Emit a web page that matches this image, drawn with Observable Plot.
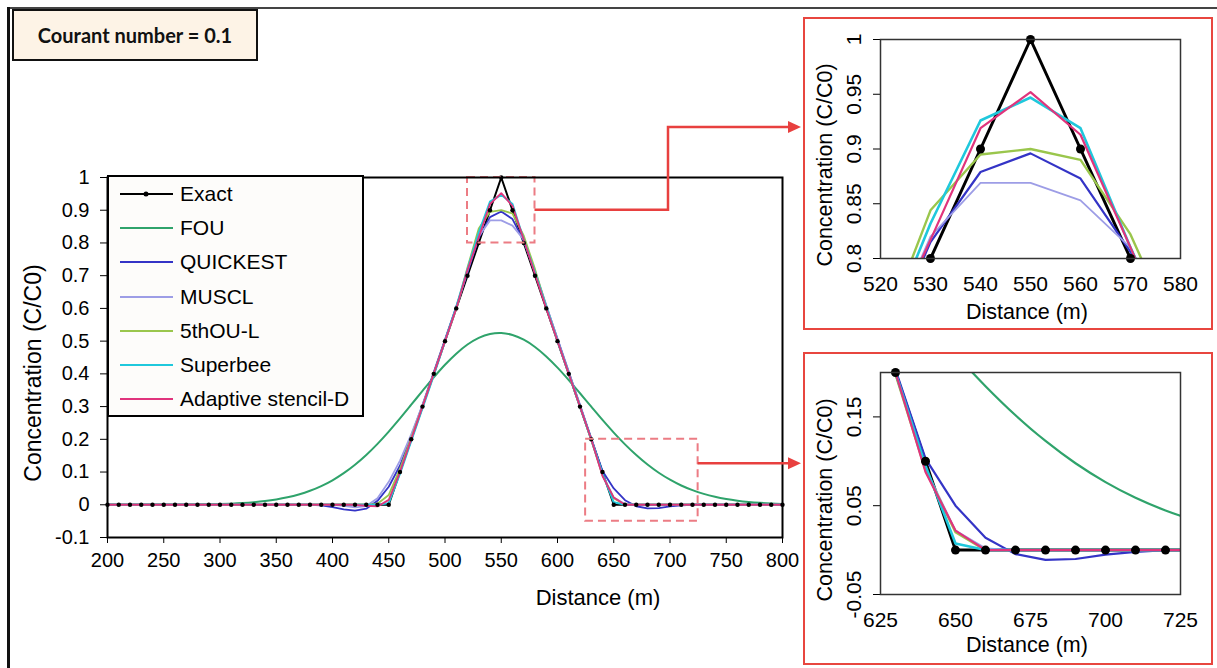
<!DOCTYPE html>
<html><head><meta charset="utf-8">
<script src="https://cdn.jsdelivr.net/npm/d3@7"></script>
<script src="https://cdn.jsdelivr.net/npm/@observablehq/plot@0.6"></script>
<style>
html,body{margin:0;padding:0;background:#fff;}
#fig{position:relative;width:1217px;height:668px;overflow:hidden;background:#fff;font-family:"Liberation Sans",Arial,sans-serif;color:#000;}
.abs{position:absolute;}
.ctr{position:absolute;transform:translate(-50%,-50%);white-space:nowrap;}
.rot{position:absolute;transform:translate(-50%,-50%) rotate(-90deg);white-space:nowrap;}
#titleBox{left:12px;top:9px;width:246px;height:52px;box-sizing:border-box;border:2px solid #111;background:#fdf3e6;display:flex;align-items:center;justify-content:center;font-family:Lato,"Open Sans",sans-serif;font-weight:700;font-size:20px;color:#111;}
#legend{left:107px;top:175px;width:257px;height:242px;box-sizing:border-box;border:2px solid #000;background:#fdfcfa;}
.lrow{position:absolute;left:0;height:34px;display:flex;align-items:center;font-size:21px;}
.lrow svg{margin-left:11px;margin-right:7px;}
.inset{position:absolute;left:803px;width:410px;height:313px;box-sizing:border-box;border:2px solid #e8463f;background:#fff;}
</style></head><body>
<div id="fig">
  <div class="abs" style="left:7px;top:7px;width:1210px;height:2px;background:#444"></div>
  <div class="abs" style="left:7px;top:7px;width:3px;height:661px;background:#111"></div>
  <div id="mainHost" class="abs" style="left:0;top:0"></div>
  <div id="titleBox" class="abs">Courant number = 0.1</div>
  <div id="legend" class="abs"></div>
  <div class="ctr" style="left:598px;top:598px;font-size:22px">Distance (m)</div>
  <div class="rot" style="left:33px;top:373px;font-size:23px">Concentration (C/C0)</div>
  <div id="inset1" class="inset" style="top:17px"></div>
  <div id="inset2" class="inset" style="top:352px"></div>
  <div class="ctr" style="left:1027px;top:312px;font-size:21.5px">Distance (m)</div>
  <div class="rot" style="left:825px;top:165px;font-size:21.5px">Concentration (C/C0)</div>
  <div class="ctr" style="left:1027px;top:645px;font-size:21.5px">Distance (m)</div>
  <div class="rot" style="left:825px;top:500px;font-size:21.5px">Concentration (C/C0)</div>
  <svg id="overlay" class="abs" width="1217" height="668" style="left:0;top:0;pointer-events:none"></svg>
</div>
<script>
// ---------------- data ----------------
const distance = [
  200,210,220,230,240,250,260,270,280,290,
  300,310,320,330,340,350,360,370,380,390,
  400,410,420,430,440,450,460,470,480,490,
  500,510,520,530,540,550,560,570,580,590,
  600,610,620,630,640,650,660,670,680,690,
  700,710,720,730,740,750,760,770,780,790,
  800];
const exact = [
  0,0,0,0,0,0,0,0,0,0,
  0,0,0,0,0,0,0,0,0,0,
  0,0,0,0,0,0,0.1,0.2,0.3,0.4,
  0.5,0.6,0.7,0.8,0.9,1,0.9,0.8,0.7,0.6,
  0.5,0.4,0.3,0.2,0.1,0,0,0,0,0,
  0,0,0,0,0,0,0,0,0,0,
  0];
const fou = [
  0,0,0,0.0001,0.0001,0.0002,0.0003,0.0005,0.0009,0.0014,
  0.0022,0.0034,0.0052,0.0077,0.0112,0.0161,0.0227,0.0314,0.0427,0.0571,
  0.0749,0.0966,0.1224,0.1522,0.1862,0.2236,0.2638,0.3057,0.3481,0.3893,
  0.4278,0.4617,0.4897,0.5101,0.522,0.525,0.5187,0.5043,0.4821,0.4532,
  0.4191,0.3811,0.3408,0.2998,0.2593,0.2206,0.1846,0.1519,0.1229,0.0978,
  0.0766,0.0589,0.0446,0.0332,0.0243,0.0175,0.0124,0.0086,0.0059,0.004,
  0.0026];
const quickest = [
  0,0,0,0,0,0,0,0,0,0,
  0,0,0,0,0,0,0,0,0,-0.002,
  -0.007,-0.014,-0.018,-0.012,0.012,0.055,0.12,0.21,0.305,0.405,
  0.505,0.605,0.71,0.815,0.879,0.896,0.873,0.806,0.71,0.608,
  0.507,0.406,0.305,0.203,0.103,0.05,0.014,-0.0045,-0.011,-0.01,
  -0.005,-0.002,0,0,0,0,0,0,0,0,
  0];
const muscl = [
  0,0,0,0,0,0,0,0,0,0,
  0,0,0,0,0,0,0,0,0,0,
  0,-0.003,-0.008,-0.004,0.02,0.07,0.135,0.215,0.305,0.4,
  0.5,0.6,0.715,0.82,0.869,0.869,0.853,0.81,0.715,0.61,
  0.505,0.405,0.305,0.2,0.092,0.022,0.002,0,0,0,
  0,0,0,0,0,0,0,0,0,0,
  0];
const fifthOUL = [
  0,0,0,0,0,0,0,0,0,0,
  0,0,0,0,0,0,0,0,0,0,
  0,0,0,0,0.003,0.03,0.11,0.205,0.3,0.4,
  0.5,0.6,0.725,0.844,0.895,0.9,0.89,0.822,0.72,0.605,
  0.5,0.4,0.3,0.198,0.09,0.02,0,0,0,0,
  0,0,0,0,0,0,0,0,0,0,
  0];
const superbee = [
  0,0,0,0,0,0,0,0,0,0,
  0,0,0,0,0,0,0,0,0,0,
  0,0,0,0,0,0.005,0.095,0.195,0.295,0.395,
  0.5,0.605,0.72,0.832,0.926,0.947,0.919,0.81,0.71,0.605,
  0.5,0.4,0.3,0.2,0.095,0.0075,0,0,0,0,
  0,0,0,0,0,0,0,0,0,0,
  0];
const adaptiveD = [
  0,0,0,0,0,0,0,0,0,0,
  0,0,0,0,0,0,0,0,0,0,
  0,0,0,-0.003,-0.005,0.015,0.1,0.2,0.3,0.4,
  0.5,0.6,0.717,0.817,0.919,0.952,0.913,0.81,0.705,0.6,
  0.5,0.4,0.3,0.2,0.088,0.022,0,0,0,0,
  0,0,0,0,0,0,0,0,0,0,
  0];

const seriesNames  = ["Exact","FOU","QUICKEST","MUSCL","5thOU-L","Superbee","Adaptive stencil-D"];
const seriesValues = [exact, fou, quickest, muscl, fifthOUL, superbee, adaptiveD];
const seriesColors = ["#000000","#2fa36b","#3434c6","#9d9de6","#9ac64c","#1fc8dc","#e0347c"];

const xTicksMain = [200,250,300,350,400,450,500,550,600,650,700,750,800];
const yTicksMain = [-0.1,0,0.1,0.2,0.3,0.4,0.5,0.6,0.7,0.8,0.9,1];
const inset1X = [520,580], inset1Y = [0.8,1];
const inset1XTicks = [520,530,540,550,560,570,580];
const inset1YTicks = [0.8,0.85,0.9,0.95,1];
const inset2X = [625,725], inset2Y = [-0.05,0.2];
const inset2XTicks = [625,650,675,700,725];
const inset2YTicks = [-0.05,0.05,0.15];

// ---------------- helpers ----------------
const fmt = d => String(+d.toFixed(3));
const rowsOf = vals => distance.map((x,i) => ({x, y: vals[i]}));
const FONT = '"Liberation Sans", Arial, sans-serif';

function seriesLines(widths) {
  return seriesValues.map((vals, k) => Plot.line(rowsOf(vals), {
    x: "x", y: "y", stroke: seriesColors[k], strokeWidth: widths[k],
    curve: k === 1 ? "catmull-rom" : "linear", clip: true
  }));
}

// ---------------- main chart ----------------
const main = Plot.plot({
  width: 800, height: 640,
  marginLeft: 107, marginRight: 18, marginTop: 177, marginBottom: 103,
  x: {domain: [200, 800]},
  y: {domain: [-0.1, 1]},
  style: {fontFamily: FONT, fontSize: "20px", color: "#000", background: "transparent", overflow: "visible"},
  marks: [
    Plot.axisX({ticks: xTicksMain, tickSize: 6, tickPadding: 9, tickFormat: fmt, label: null, fontSize: 20}),
    Plot.axisY({ticks: yTicksMain, tickSize: 7, tickPadding: 11, tickFormat: fmt, label: null, fontSize: 20}),
    ...seriesLines([2, 2, 1.8, 1.8, 1.8, 2, 1.8]),
    Plot.dot(rowsOf(exact), {x: "x", y: "y", r: 2.2, fill: "#000"}),
    Plot.rect([{x1: inset1X[0], x2: inset1X[1], y1: inset1Y[0], y2: inset1Y[1]},
               {x1: inset2X[0], x2: inset2X[1], y1: inset2Y[0], y2: inset2Y[1]}],
      {x1: "x1", x2: "x2", y1: "y1", y2: "y2", fill: "none", stroke: "#ec7c84", strokeWidth: 2, strokeDasharray: "8,5"}),
    Plot.frame({stroke: "#000", strokeWidth: 2})
  ]
});
document.getElementById("mainHost").appendChild(main);

// ---------------- legend ----------------
const legend = document.getElementById("legend");
seriesNames.forEach((name, k) => {
  const row = document.createElement("div");
  row.className = "lrow";
  row.style.top = (0 + k * 34.2) + "px";
  const dot = k === 0 ? `<circle cx="26" cy="5" r="2.5" fill="#000"/>` : "";
  row.innerHTML = `<svg width="53" height="10"><line x1="0" y1="5" x2="53" y2="5" stroke="${seriesColors[k]}" stroke-width="${k===0?2:2.2}"/>${dot}</svg><span>${name}</span>`;
  legend.appendChild(row);
});

// ---------------- insets ----------------
function inset(xd, yd, xt, yt, mt, mb) {
  const ex = rowsOf(exact).filter(d => d.x >= xd[0] && d.x <= xd[1] && d.y >= yd[0] && d.y <= yd[1]);
  return Plot.plot({
    width: 406, height: 309,
    marginLeft: 75, marginRight: 31, marginTop: mt, marginBottom: mb,
    x: {domain: xd}, y: {domain: yd},
    style: {fontFamily: FONT, fontSize: "21px", color: "#000", background: "transparent", overflow: "visible"},
    marks: [
      Plot.axisX({ticks: xt, tickSize: 0, tickPadding: 18, tickFormat: fmt, label: null, fontSize: 21}),
      Plot.axisY({ticks: yt, tickSize: 7, tickPadding: 13, tickRotate: -90, tickFormat: fmt, label: null, fontSize: 21}),
      ...seriesLines([3, 2.2, 2.2, 1.8, 2.4, 2.6, 2.2]),
      Plot.dot(ex, {x: "x", y: "y", r: 4.5, fill: "#000"}),
      Plot.frame({stroke: "#333", strokeWidth: 1.5})
    ]
  });
}
document.getElementById("inset1").appendChild(inset(inset1X, inset1Y, inset1XTicks, inset1YTicks, 20, 70));
document.getElementById("inset2").appendChild(inset(inset2X, inset2Y, inset2XTicks, inset2YTicks, 18, 69));

// ---------------- arrows (anchored on the main chart's scales) ----------------
const sx = main.scale("x"), sy = main.scale("y");
const ov = d3.select("#overlay");
const red = "#e8403f";
const tipX = 801, headLen = 13, headHalf = 6;
function arrow(points) {
  const last = points[points.length - 1];
  const line = d3.line()(points.slice(0, -1).concat([[last[0] - headLen, last[1]]]));
  ov.append("path").attr("d", line).attr("fill", "none").attr("stroke", red).attr("stroke-width", 2.5);
  ov.append("path").attr("d", `M${last[0]},${last[1]}L${last[0]-headLen},${last[1]-headHalf}L${last[0]-headLen},${last[1]+headHalf}Z`).attr("fill", red);
}
const b1x = sx.apply(inset1X[1]);
const b1y = (sy.apply(inset1Y[0]) + sy.apply(inset1Y[1])) / 2;
arrow([[b1x, b1y], [668, b1y], [668, 127], [tipX, 127]]);
const b2x = sx.apply(inset2X[1]);
const b2top = sy.apply(inset2Y[1]), b2bot = sy.apply(inset2Y[0]);
const b2y = b2top + 0.3 * (b2bot - b2top);
arrow([[b2x, b2y], [tipX, b2y]]);
</script>
</body></html>
